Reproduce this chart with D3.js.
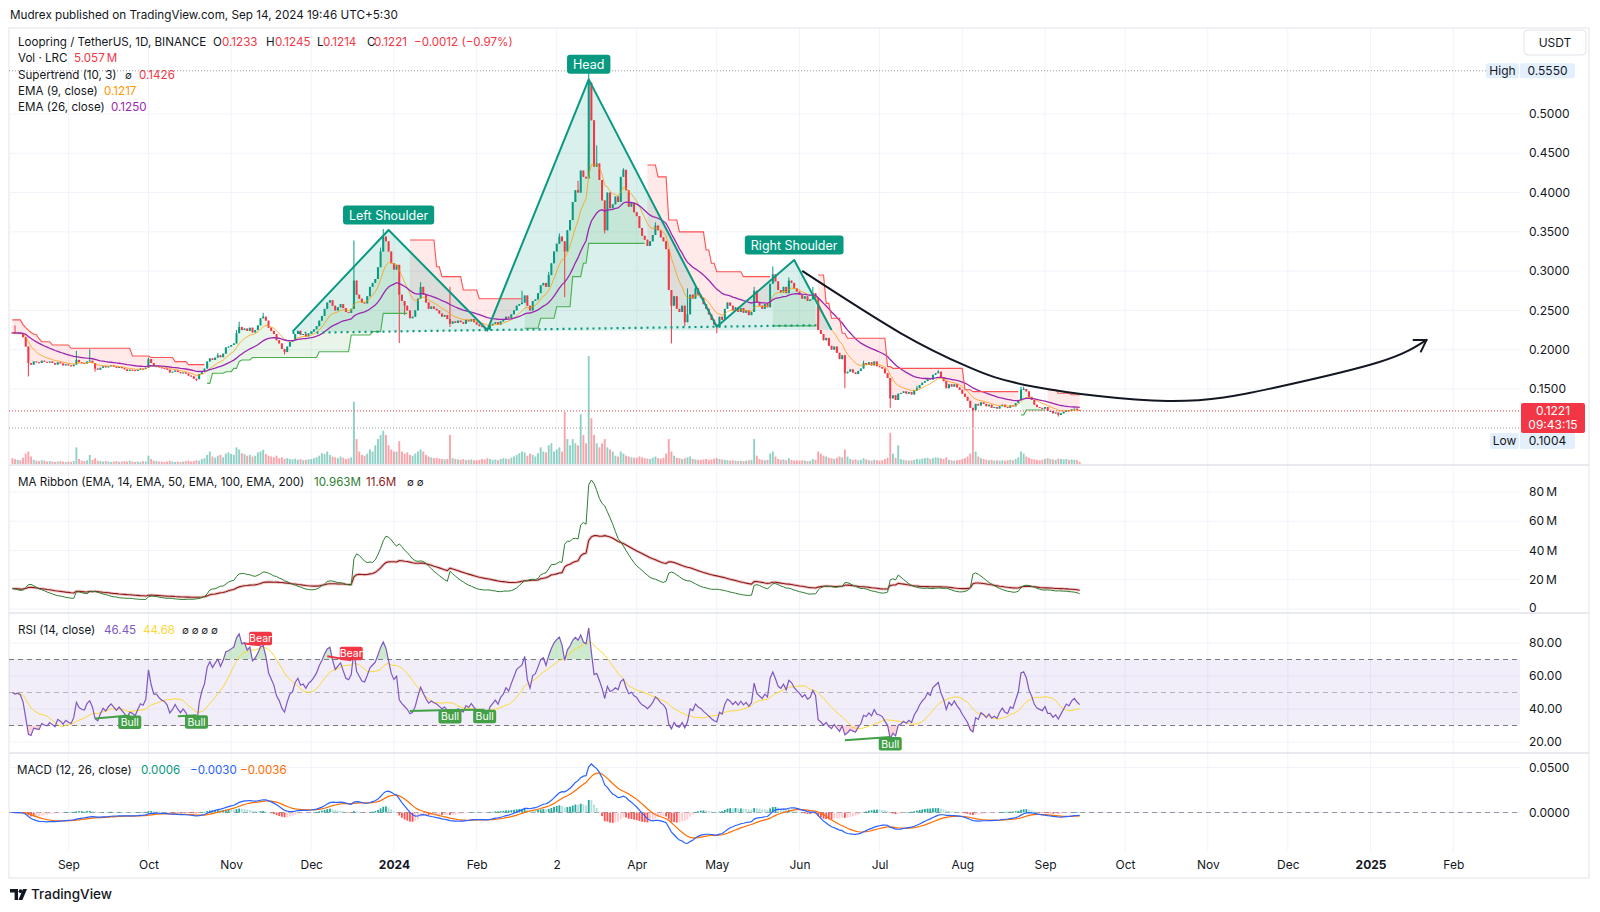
<!DOCTYPE html>
<html><head><meta charset="utf-8">
<script src="https://cdn.jsdelivr.net/npm/d3@7/dist/d3.min.js"></script>
<style>
html,body{margin:0;padding:0;background:#fff;}
svg{display:block;font-family:Inter,"Noto Sans",sans-serif;}
</style></head><body>
<svg id="chart" width="1600" height="912"></svg>
<script>
// ================= DATA =================
const firstDay = "2023-08-11";
const firstOpen = 0.2220;
// daily closes, in units of 0.0001 USDT (Aug 11 2023 -> Sep 14 2024)
const closes = [
 2215,2205,2210,2200,2160,2040,1830,1810,1850,1840,1830,1860,1845,1835,1850,1830,1810,1840,1825,1800,1815,
 1800,1790,1810,1870,1840,1830,1825,1850,1860,1830, 1760,1745,1770,1790,1775,1790,1800,1785,1770,1780, 1765,1750,1730,1745,1740,1730,1745,1760,1755,1770,
 1880,1830,1790,1790,1775,1765,1760,1745,1710,1720, 1735,1715,1700,1710,1695,1670,1660,1630,1625,1690, 1730,1760,1850,1890,1870,1900,1930,1905,1950,2030, 2040,
 2060,2080,2210,2290,2250,2270,2240,2280,2220,2250, 2310,2400,2420,2370,2280,2240,2200,2120,2080,2010, 1970,2040,2100,2120,2200,2240,2190,2200,2170,2210,
 2230,2260,2300,2370,2430,2520,2600,2630,2560,2500, 2540,2580,2530,2480,2470,2520,2880,2700,2650,2600, 2590,2680,2800,2850,2900,3050,3250,3440,3380,3250, 3100,
 3020,3080,2700,2620,2560,2500,2400,2420,2500,2650, 2800,2700,2600,2520,2550,2520,2500,2460,2420,2440, 2390,2330,2360,2340,2370,2350,2330,2380,2360,2390, 2350,
 2320,2300,2290,2270,2255,2310,2330,2350,2320,2360, 2380,2420,2400,2450,2500,2560,2580,2600,2690,2560, 2500,2620,2640,2720,2820,2850,2800,2950,3100,
 3250,3350,3440,3380,3250,3520,3650,3880,4030,4000, 4280,4200,4180,5400,4920,4330,4370,4160,3900,3520, 4000,3800,3850,3950,3880,4200,4290,4030,3820,3870, 3750,
 3700,3550,3450,3400,3320,3380,3460,3580,3520,3430, 3380,3280,2760,2560,2680,2520,2480,2560,2350,2450, 2700,2650,2780,2700,2660,2580,2520,2450,2380,2320,
 2290,2420,2380,2520,2600,2560,2500,2540,2480,2530, 2470,2500,2440,2480,2750,2600,2560,2520,2580,2540, 2840,2960,2870,2760,2730,2800,2720,2880,2850,2780, 2740,
 2700,2650,2680,2620,2640,2720,2660,2250,2200,2120, 2150,2050,2000,2040,1960,1880,1930,1700,1720,1750, 1710,1690,1730,1760,1830,1810,1840,1800,1850,1790,
 1780,1760,1700,1640,1380,1420,1360,1440,1450,1470, 1440,1460,1430,1480,1510,1550,1580,1600,1640,1620, 1680,1700,1720,1650,1600,1510,1560,1530,1560,1520, 1490,
 1440,1400,1350,1260,1230,1310,1290,1330,1310,1280, 1300,1260,1270,1250,1280,1300,1270,1260,1290,1280, 1320,1360,1490,1500,1470,1400,1360,1300,1270,1260, 1250,
 1270,1220,1220,1190,1200,1170,1190,1210,1230,1220, 1240,1250,1233,1221
];
// daily volume, millions of LRC
const volumes = [
 14,12,10,9,15,25,30,18,10,8, 7,9,8,6,7,6,5,6,7,6, 5,
 6,5,7,40,12,8,7,9,22,10, 14,8,7,6,7,6,5,6,7,5, 6,7,6,8,6,5,6,5,7,6,
 20,12,8,7,6,6,5,6,8,6, 5,6,5,6,7,8,6,7,9,8, 12,14,22,30,18,15,20,22,16,25, 28,
 24,22,40,35,26,24,20,22,18,20, 28,30,34,24,20,18,16,20,14,16, 12,14,12,11,13,10,12,9,10,11,
 12,14,16,20,26,24,30,22,18,16, 14,18,15,12,14,16,150,60,30,22, 20,25,35,30,45,60,70,80,70,45, 35,
 30,30,55,30,25,28,22,20,25,30, 35,30,22,18,16,14,15,13,12,11, 12,70,14,12,11,10,12,9,10,11, 9,
 9,10,12,11,14,12,10,11,9,12, 14,13,12,15,18,22,26,30,28,20, 25,22,18,26,40,30,28,45,50,
 30,35,40,30,125,60,45,60,50,45, 120,70,50,260,110,70,50,40,50,60, 40,35,30,20,18,30,25,20,18,16, 15,
 15,18,16,14,13,12,15,18,14,13, 15,25,60,30,20,15,14,12,14,16, 18,12,11,10,10,11,12,10,11,13,
 14,12,11,10,9,8,9,8,7,8, 7,8,9,10,60,20,12,10,9,10, 25,30,18,12,10,11,9,14,10,8, 9,
 8,9,8,7,8,12,10,30,25,20, 18,15,14,12,15,18,16,35,18,12, 10,11,9,10,14,11,9,8,10,9,
 8,9,12,15,75,25,15,45,12,10, 9,8,9,10,12,11,13,14,15,12, 14,16,15,14,12,16,10,9,8,9, 10,
 12,14,18,25,85,30,18,14,12,10, 9,10,8,9,8,9,8,9,10,9, 12,16,30,25,18,15,12,11,10,9, 10,
 12,14,12,11,10,13,12,11,12,10, 11,10,9,5.057
];
// notable wicks [day index, price x0.0001]
const wickHigh = [[1,2310],[24,1985],[29,2005],[51,1900],[77,1960],[84,2250],[85,2357],[94,2470],[128,3390],[138,3300],[139,3536],
 [153,2860],[164,2800],[191,2750],[201,2990],[205,3480],[212,4150],[216,5550],[219,4600],[229,4310],[241,3620],[253,2780],[256,2830],
 [278,2800],[285,3060],[291,2920],[300,2800],[319,1860],[339,1540],[347,1740],[378,1530],[379,1530]];
const wickLow = [[6,1660],[31,1720],[69,1600],[102,1940],[145,2085],[147,2440],[164,2290],[178,2230],[207,2670],[216,4300],[222,3480],
 [247,2080],[252,2300],[264,2210],[277,2450],[312,1510],[329,1260],[360,1004],[392,1150]];
// Supertrend (10,3): [day index, level x0.0001, direction 1=up -1=down]
const supertrendSteps = [
 [0,2380,-1],[4,2320,-1],[5,2280,-1],[6,2250,-1],[7,2220,-1],[8,2200,-1],[9,2190,-1],[10,2140,-1],[11,2102,-1],[15,2060,-1],[22,2018,-1],[45,1920,-1],[52,1900,-1],[61,1848,-1],[66,1810,-1],
 [73,1572,1],[75,1700,1],[80,1720,1],[83,1763,1],[85,1850,1],[86,1870,1],[90,1900,1],[115,1975,1],[127,2187,1],[135,2230,1],[139,2463,1],
 [149,3397,-1],[159,3056,-1],[161,2930,-1],[169,2760,-1],[175,2648,-1],
 [192,2273,1],[198,2400,1],[204,2547,1],[210,2930,1],[214,3100,1],[216,3354,1],
 [238,4350,-1],[242,4200,-1],[246,3650,-1],[250,3500,-1],[260,3270,-1],[262,3100,-1],[264,2993,-1],[274,2930,-1],
 [285,2303,1],
 [302,2950,-1],[305,2590,-1],[307,2400,-1],[311,2210,-1],[313,2145,-1],[328,1785,-1],[330,1763,-1],[357,1490,-1],[360,1466,-1],
 [378,1170,1],[380,1233,1],
 [388,1490,-1],[392,1445,-1],[397,1426,-1]
];
const monthTicks = ["2023-09-01","2023-10-01","2023-11-01","2023-12-01","2024-01-01","2024-02-01","2024-03-02","2024-04-01","2024-05-01","2024-06-01","2024-07-01","2024-08-01","2024-09-01","2024-10-01","2024-11-01","2024-12-01","2025-01-01","2025-02-01"];
const monthLabels = ["Sep","Oct","Nov","Dec","2024","Feb","2","Apr","May","Jun","Jul","Aug","Sep","Oct","Nov","Dec","2025","Feb"];
const priceTicks = [0.15,0.20,0.25,0.30,0.35,0.40,0.45,0.50];
const ribbonTicks = [0,20,40,60,80];
const rsiTicks = [20,40,60,80];
const macdTicks = [0,0.05];
// Head & Shoulders drawing
const hsDates = ["2023-11-24","2023-12-30","2024-02-05","2024-03-14","2024-05-01","2024-05-30","2024-06-13"];
const hsPrices = [0.2230,0.3524,0.2250,0.5441,0.2293,0.3142,0.2250];
const hsLabels = [["Left Shoulder",1],["Head",3],["Right Shoulder",5]];
// projection arrow
const arrowDates = ["2024-06-02","2024-07-09","2024-08-03","2024-08-28","2024-10-17","2024-11-26","2025-01-04","2025-01-22"];
const arrowPrices = [0.3003,0.2209,0.1784,0.1529,0.1347,0.1516,0.1840,0.2125];
// RSI divergence marks: [date1, rsi1, date2, rsi2]
const bullDiv = [["2023-09-11",34.2,"2023-09-24",36.0],["2023-10-12",35.6,"2023-10-19",36.2],["2024-01-07",38.8,"2024-01-22",39.4],["2024-01-22",39.4,"2024-02-04",39.6],["2024-06-18",21.0,"2024-07-05",23.0]];
const bearDiv = [["2023-11-06",79.7,"2023-11-12",78.7],["2023-12-07",72.0,"2023-12-16",69.6]];

// ================= SETUP =================
const svg = d3.select("#chart");
const parse = d3.utcParse("%Y-%m-%d");
const t0 = parse(firstDay);
const N = closes.length;
const dates = d3.range(N).map(i => new Date(t0.getTime() + i*864e5));
const C = closes.map(v => v/1e4);
const O = C.map((c,i) => i ? C[i-1] : firstOpen);
const Hi = C.map((c,i) => Math.max(c,O[i]));
const Lo = C.map((c,i) => Math.min(c,O[i]));
wickHigh.forEach(([i,v]) => Hi[i] = Math.max(Hi[i], v/1e4));
wickLow.forEach(([i,v]) => Lo[i] = Math.min(Lo[i], v/1e4));

const UP = "#089981", DN = "#f23645", TXT = "#131722", GRID = "#f0f3fa", BORDER = "#e0e3eb";
const L = 9, R = 1520;
const P = {main:[30,465], rib:[465,613], rsi:[613,753], macd:[753,851]};

const x = d3.scaleUtc().domain([parse("2023-09-01"), parse("2024-09-01")]).range([68.4, 1045]);
const yP = d3.scaleLinear().domain([0.15,0.5]).range([389,114]);
const yV = d3.scaleLinear().domain([0, d3.max(volumes)]).range([464, 356]);
const yRb = d3.scaleLinear().domain([0,80]).range([609,492]);
const yR = d3.scaleLinear().domain([20,80]).range([742,643]);
const yM = d3.scaleLinear().domain([0,0.05]).range([812.5,767.5]);
const X = i => x(dates[i]);

function ema(a,n){const k=2/(n+1);let e=a[0];return a.map((v,i)=>(e=i?e+k*(v-e):v));}
const ema9 = ema(C,9), ema26 = ema(C,26);
const vE14 = ema(volumes,14), vE50 = ema(volumes,50);
function rsiCalc(c,n){const out=[50];const seed=d3.mean(d3.range(1,n+1),i=>Math.abs(c[i]-c[i-1]))/2;let ag=seed,al=seed;
 for(let i=1;i<c.length;i++){const d=c[i]-c[i-1];ag=(ag*(n-1)+Math.max(d,0))/n;al=(al*(n-1)+Math.max(-d,0))/n;out.push(al===0?100:100-100/(1+ag/al));}return out;}
const rsi = rsiCalc(C,14);
const rsiMA = rsi.map((v,i)=>d3.mean(rsi.slice(Math.max(0,i-13),i+1)));
const e12 = ema(C,12), e26 = ema(C,26);
const macd = e12.map((v,i)=>v-e26[i]);
const sig = ema(macd,9);
const hist = macd.map((v,i)=>v-sig[i]);

// supertrend daily values
const st=[], stDir=[]; {let k=0; for(let i=0;i<N;i++){while(k+1<supertrendSteps.length&&supertrendSteps[k+1][0]<=i)k++; st.push(supertrendSteps[k][1]/1e4); stDir.push(supertrendSteps[k][2]);}}
const segs=[]; {let cur=null; for(let i=0;i<N;i++){if(!cur||cur.dir!==stDir[i]){cur={dir:stDir[i],idx:[]};segs.push(cur);}cur.idx.push(i);}}

// defs / clips
const defs = svg.append("defs");
Object.entries(P).forEach(([k,[a,b]])=>defs.append("clipPath").attr("id","clip-"+k).append("rect").attr("x",L).attr("y",a).attr("width",R-L).attr("height",b-a));
defs.append("clipPath").attr("id","clip-ob").append("rect").attr("x",L).attr("y",P.rsi[0]).attr("width",R-L).attr("height",yR(70)-P.rsi[0]);
defs.append("clipPath").attr("id","clip-os").append("rect").attr("x",L).attr("y",yR(30)).attr("width",R-L).attr("height",P.rsi[1]-yR(30));

// ================= FRAME & GRID =================
svg.append("rect").attr("x",0).attr("y",0).attr("width",1600).attr("height",912).attr("fill","#fff");
svg.append("text").attr("x",10).attr("y",19).attr("font-size",11.7).attr("fill",TXT).text("Mudrex published on TradingView.com, Sep 14, 2024 19:46 UTC+5:30");
svg.append("rect").attr("x",L).attr("y",28).attr("width",1589-L).attr("height",878-28).attr("fill","none").attr("stroke",BORDER);

const grid = svg.append("g").attr("stroke",GRID).attr("stroke-width",1);
monthTicks.forEach(t=>grid.append("line").attr("x1",x(parse(t))).attr("x2",x(parse(t))).attr("y1",29).attr("y2",851));
priceTicks.forEach(v=>grid.append("line").attr("x1",L).attr("x2",R).attr("y1",yP(v)).attr("y2",yP(v)));
ribbonTicks.forEach(v=>grid.append("line").attr("x1",L).attr("x2",R).attr("y1",yRb(v)).attr("y2",yRb(v)));
rsiTicks.forEach(v=>grid.append("line").attr("x1",L).attr("x2",R).attr("y1",yR(v)).attr("y2",yR(v)));
macdTicks.forEach(v=>grid.append("line").attr("x1",L).attr("x2",R).attr("y1",yM(v)).attr("y2",yM(v)));
[P.rib[0],P.rsi[0],P.macd[0]].forEach(y=>svg.append("line").attr("x1",L).attr("x2",1589).attr("y1",y).attr("y2",y).attr("stroke",BORDER).attr("stroke-width",1.5));

// ================= MAIN PANE =================
const gm = svg.append("g").attr("clip-path","url(#clip-main)");
// volume
gm.append("g").selectAll("rect").data(d3.range(N)).join("rect")
  .attr("x",i=>X(i)-0.95).attr("width",1.9).attr("y",i=>yV(volumes[i])).attr("height",i=>yV(0)-yV(volumes[i]))
  .attr("fill",i=>C[i]>=O[i]?"rgba(8,153,129,0.45)":"rgba(242,54,69,0.45)");
// supertrend fills
segs.forEach(s=>{
  gm.append("path").datum(s.idx).attr("fill",s.dir>0?"rgba(76,175,80,0.13)":"rgba(255,82,82,0.13)")
    .attr("d",d3.area().x(X).y0(i=>yP((O[i]+C[i])/2)).y1(i=>yP(st[i])));
});
// H&S fill
const hsPts = hsDates.map((d,k)=>[x(parse(d)),yP(hsPrices[k])]);
gm.append("path").attr("d","M"+hsPts.map(p=>p.join(",")).join("L")+"Z").attr("fill","rgba(8,153,129,0.15)");
// candles
const gc = gm.append("g");
gc.selectAll("line").data(d3.range(N)).join("line").attr("x1",X).attr("x2",X).attr("y1",i=>yP(Hi[i])).attr("y2",i=>yP(Lo[i]))
  .attr("stroke",i=>C[i]>=O[i]?UP:DN).attr("stroke-width",1);
gc.selectAll("rect").data(d3.range(N)).join("rect").attr("x",i=>X(i)-1).attr("width",2)
  .attr("y",i=>yP(Math.max(O[i],C[i]))).attr("height",i=>Math.max(1,Math.abs(yP(O[i])-yP(C[i]))))
  .attr("fill",i=>C[i]>=O[i]?UP:DN);
// EMAs
const ln = arr => d3.line().x(X).y(i=>yP(arr[i]));
gm.append("path").datum(d3.range(N)).attr("d",ln(ema9)).attr("fill","none").attr("stroke","#ff9800").attr("stroke-opacity",0.75).attr("stroke-width",1);
gm.append("path").datum(d3.range(N)).attr("d",ln(ema26)).attr("fill","none").attr("stroke","#9c27b0").attr("stroke-width",1.3);
// supertrend lines
segs.forEach(s=>gm.append("path").datum(s.idx).attr("d",ln(st)).attr("fill","none").attr("stroke",s.dir>0?"#4caf50":"#ff5252").attr("stroke-width",1.1));
// neckline (through the two troughs P2,P4, extended)
const nk = t => { const a=hsPts[2], b=hsPts[4]; return a[1]+(b[1]-a[1])*(t-a[0])/(b[0]-a[0]); };
gm.append("line").attr("x1",hsPts[0][0]).attr("x2",hsPts[6][0]-14).attr("y1",nk(hsPts[0][0])).attr("y2",nk(hsPts[6][0]-14))
  .attr("stroke","#089981").attr("stroke-width",2.2).attr("stroke-dasharray","2,4");
gm.append("path").attr("d","M"+hsPts.map(p=>p.join(",")).join("L")).attr("fill","none").attr("stroke","#089981").attr("stroke-width",2).attr("stroke-linejoin","round");
// price lines
gm.append("line").attr("x1",L).attr("x2",R).attr("y1",yP(0.555)).attr("y2",yP(0.555)).attr("stroke","#9598a1").attr("stroke-dasharray","1,2");
gm.append("line").attr("x1",L).attr("x2",R).attr("y1",yP(0.1004)).attr("y2",yP(0.1004)).attr("stroke","#9598a1").attr("stroke-dasharray","1,2");
gm.append("line").attr("x1",L).attr("x2",R).attr("y1",yP(0.1221)).attr("y2",yP(0.1221)).attr("stroke",DN).attr("stroke-dasharray","1,2");
// arrow
const aPts = arrowDates.map((d,k)=>[x(parse(d)),yP(arrowPrices[k])]);
const ap = gm.append("path").attr("d",d3.line().curve(d3.curveNatural)(aPts)).attr("fill","none").attr("stroke",TXT).attr("stroke-width",2);
{const n=ap.node(),T=n.getTotalLength(),tip=n.getPointAtLength(T),bk=n.getPointAtLength(T-10);const ang=Math.atan2(tip.y-bk.y,tip.x-bk.x);
 [-0.55,0.55].forEach(d=>gm.append("line").attr("x1",tip.x).attr("y1",tip.y).attr("x2",tip.x-13*Math.cos(ang+d)).attr("y2",tip.y-13*Math.sin(ang+d)).attr("stroke",TXT).attr("stroke-width",2).attr("stroke-linecap","round"));}
// pattern labels
hsLabels.forEach(([t,k])=>{
  const g=gm.append("g"); const tx=g.append("text").attr("x",hsPts[k][0]).attr("y",hsPts[k][1]-10).attr("text-anchor","middle").attr("font-size",12.5).attr("fill","#fff").text(t);
  const w=tx.node().getComputedTextLength()+12;
  g.insert("rect","text").attr("x",hsPts[k][0]-w/2).attr("y",hsPts[k][1]-24.5).attr("width",w).attr("height",19).attr("rx",3).attr("fill","#089981");
});

// ================= MA RIBBON =================
const gr = svg.append("g").attr("clip-path","url(#clip-rib)");
const lr = arr => d3.line().x(X).y(i=>yRb(arr[i]));
gr.append("path").datum(d3.range(N)).attr("d",lr(vE50)).attr("fill","none").attr("stroke","rgba(183,28,28,0.25)").attr("stroke-width",3);
gr.append("path").datum(d3.range(N)).attr("d",lr(vE50)).attr("fill","none").attr("stroke","#8e1b1b").attr("stroke-width",1.1);
gr.append("path").datum(d3.range(N)).attr("d",lr(vE14)).attr("fill","none").attr("stroke","#2e7d32").attr("stroke-width",1);

// ================= RSI =================
const gR = svg.append("g").attr("clip-path","url(#clip-rsi)");
gR.append("rect").attr("x",L).attr("width",R-L).attr("y",yR(70)).attr("height",yR(30)-yR(70)).attr("fill","rgba(126,87,194,0.1)");
[[70,"#787b86"],[50,"#b2b5be"],[30,"#787b86"]].forEach(([v,c])=>gR.append("line").attr("x1",L).attr("x2",R).attr("y1",yR(v)).attr("y2",yR(v)).attr("stroke",c).attr("stroke-dasharray","5,4"));
const idx = d3.range(N);
gR.append("path").datum(idx).attr("clip-path","url(#clip-ob)").attr("fill","rgba(76,175,80,0.28)").attr("d",d3.area().x(X).y0(yR(70)).y1(i=>yR(rsi[i])));
gR.append("path").datum(idx).attr("clip-path","url(#clip-os)").attr("fill","rgba(242,54,69,0.22)").attr("d",d3.area().x(X).y0(yR(30)).y1(i=>yR(rsi[i])));
gR.append("path").datum(idx).attr("d",d3.line().x(X).y(i=>yR(rsiMA[i]))).attr("fill","none").attr("stroke","#fdd835").attr("stroke-width",1);
gR.append("path").datum(idx).attr("d",d3.line().x(X).y(i=>yR(rsi[i]))).attr("fill","none").attr("stroke","#7e57c2").attr("stroke-width",1.2);
function divMark(d,col,text,below){
  const x1=x(parse(d[0])),y1=yR(d[1]),x2=x(parse(d[2])),y2=yR(d[3]);
  gR.append("line").attr("x1",x1).attr("y1",y1).attr("x2",x2).attr("y2",y2).attr("stroke",col).attr("stroke-width",2);
  const g=gR.append("g");
  g.append("rect").attr("x",x2-11.5).attr("y",below?y2:y2-13.5).attr("width",23).attr("height",13.5).attr("rx",2).attr("fill",col);
  g.append("text").attr("x",x2).attr("y",below?y2+10.5:y2-3).attr("text-anchor","middle").attr("font-size",10.5).attr("fill","#fff").text(text);
}
bullDiv.forEach(d=>divMark(d,"#43a047","Bull",true));
bearDiv.forEach(d=>divMark(d,"#f23645","Bear",false));

// ================= MACD =================
const gM = svg.append("g").attr("clip-path","url(#clip-macd)");
gM.append("line").attr("x1",L).attr("x2",R).attr("y1",yM(0)).attr("y2",yM(0)).attr("stroke","#9598a1").attr("stroke-dasharray","5,4");
gM.append("g").selectAll("rect").data(idx).join("rect").attr("x",i=>X(i)-0.9).attr("width",1.8)
  .attr("y",i=>Math.min(yM(hist[i]),yM(0))).attr("height",i=>Math.max(0.5,Math.abs(yM(hist[i])-yM(0))))
  .attr("fill",i=>{const h=hist[i],p=i?hist[i-1]:0;return h>=0?(h>=p?"#26a69a":"#b2dfdb"):(h<p?"#ff5252":"#ffcdd2");});
gM.append("path").datum(idx).attr("d",d3.line().x(X).y(i=>yM(sig[i]))).attr("fill","none").attr("stroke","#ff6d00").attr("stroke-width",1.2);
gM.append("path").datum(idx).attr("d",d3.line().x(X).y(i=>yM(macd[i]))).attr("fill","none").attr("stroke","#2962ff").attr("stroke-width",1.2);

// ================= AXES =================
const ax = svg.append("g").attr("font-size",12).attr("fill",TXT);
const tick = (y,s)=>ax.append("text").attr("x",1529).attr("y",y).attr("dy","0.35em").text(s);
priceTicks.forEach(v=>tick(yP(v),d3.format(".4f")(v)));
ribbonTicks.forEach(v=>tick(v===0?yRb(v)-1:yRb(v),v===0?"0":v+"\u2009M"));
rsiTicks.forEach(v=>tick(yR(v),d3.format(".2f")(v)));
macdTicks.forEach(v=>tick(yM(v),d3.format(".4f")(v)));
// time axis
const xa = svg.append("g").attr("transform","translate(0,865)").call(d3.axisBottom(x).tickValues(monthTicks.map(parse)).tickFormat((d,i)=>monthLabels[i]).tickSize(0));
xa.select(".domain").remove();
xa.selectAll("text").attr("y",0).attr("dy","0.35em").attr("font-size",12).attr("font-family","Inter,'Noto Sans',sans-serif").attr("fill",TXT)
  .attr("font-weight",(d,i)=>/^\d{4}$/.test(monthLabels[i])?700:400);

// price axis badges
function badge(x0,y0,w,h,fill,lines,col){svg.append("rect").attr("x",x0).attr("y",y0).attr("width",w).attr("height",h).attr("rx",2).attr("fill",fill);
 lines.forEach((t,k)=>svg.append("text").attr("x",x0+w/2).attr("y",y0+h/2+(k-(lines.length-1)/2)*14).attr("dy","0.35em").attr("text-anchor","middle").attr("font-size",12).attr("fill",col).text(t));}
badge(1486,yP(0.555)-7.5,33,15,"#e3effd",["High"],TXT);
badge(1520,yP(0.555)-7.5,55,15,"#e3effd",["0.5550"],TXT);
badge(1521,yP(0.1221)-8,64,30,"#f23645",["0.1221","09:43:15"],"#fff");
badge(1490,433,29,16,"#e3effd",["Low"],TXT);
badge(1520,433,55,16,"#e3effd",["0.1004"],TXT);
svg.append("rect").attr("x",1524).attr("y",30).attr("width",62).attr("height",25).attr("rx",4).attr("fill","#fff").attr("stroke",BORDER);
svg.append("text").attr("x",1555).attr("y",42.5).attr("dy","0.35em").attr("text-anchor","middle").attr("font-size",12).attr("fill",TXT).text("USDT");

// ================= LEGENDS =================
function T(xp,y,s,col,size){return svg.append("text").attr("x",xp).attr("y",y).attr("font-size",size||11.6).attr("fill",col||TXT).text(s);}
T(18,46,"Loopring / TetherUS, 1D, BINANCE");
T(213,46,"O"); T(222,46,"0.1233",DN); T(266,46,"H"); T(275,46,"0.1245",DN); T(317,46,"L"); T(323,46,"0.1214",DN); T(367,46,"C"); T(374,46,"0.1221",DN); T(414,46,"\u22120.0012 (\u22120.97%)",DN);
T(18,62,"Vol \u00b7 LRC"); T(74,62,"5.057\u2009M",DN);
T(18,78.5,"Supertrend (10, 3)"); T(125,78.5,"\u2205",TXT,10); T(139,78.5,"0.1426",DN);
T(18,95,"EMA (9, close)"); T(104,95,"0.1217","#ff9800");
T(18,111,"EMA (26, close)"); T(111,111,"0.1250","#9c27b0");
T(18,486,"MA Ribbon (EMA, 14, EMA, 50, EMA, 100, EMA, 200)"); T(314,486,"10.963M","#2e7d32"); T(366,486,"11.6M","#8e1b1b"); T(407,486,"\u2205  \u2205",TXT,10);
T(18,634,"RSI (14, close)"); T(104,634,"46.45","#7e57c2"); T(143,634,"44.68","#fdd835"); T(182,634,"\u2205  \u2205  \u2205  \u2205",TXT,10);
T(17,773.5,"MACD (12, 26, close)"); T(141,773.5,"0.0006","#089981"); T(190,773.5,"\u22120.0030","#2962ff"); T(240,773.5,"\u22120.0036","#ff6d00");

// footer logo
const lg = svg.append("g").attr("fill",TXT);
lg.append("path").attr("d","M10,889 h8 v11 h-3.4 v-7.6 h-4.6 z");
lg.append("circle").attr("cx",20.6).attr("cy",891.2).attr("r",1.9);
lg.append("path").attr("d","M23,889 h4 l-4.6,11 h-4 z");
svg.append("text").attr("x",31).attr("y",899).attr("font-size",13.5).attr("font-weight",500).attr("fill",TXT).text("TradingView");
</script>
</body></html>
